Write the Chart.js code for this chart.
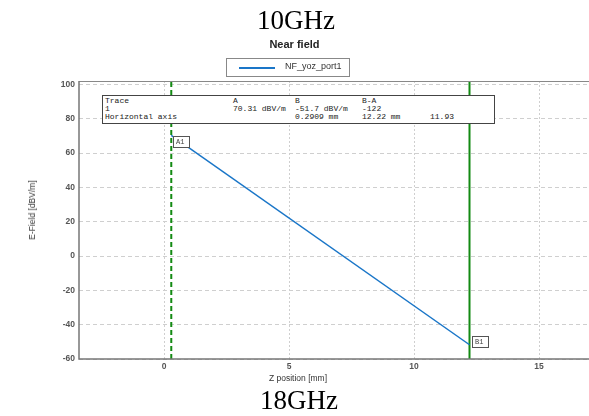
<!DOCTYPE html>
<html>
<head>
<meta charset="utf-8">
<script src="https://cdn.jsdelivr.net/npm/chart.js@4"></script>
<style>
  body { margin:0; background:#fff; }
  #wrap { position:relative; width:589px; height:416px; overflow:hidden; }
  #c { position:absolute; left:0; top:0; }
  .t { position:absolute; white-space:nowrap; }
  .freq { font-family:"Liberation Serif","DejaVu Serif",serif; font-size:27px; color:#000; line-height:1; }
  #near { left:0; width:589px; text-align:center; top:38px; font:bold 11px "Liberation Sans",Arial,sans-serif; color:#222; }
  #legend { left:226px; top:58px; width:122px; height:17px; border:1px solid #888; }
  #legend .ln { position:absolute; left:12px; top:8px; width:36px; height:2px; background:#1a76c8; }
  #legend .lb { position:absolute; left:58px; top:2px; font:9px "Liberation Sans",Arial,sans-serif; color:#333; }
  #xt { left:0; width:596px; text-align:center; top:373px; font:8.5px "Liberation Sans",Arial,sans-serif; color:#333; }
  #yt { left:32px; top:210px; transform:translate(-50%,-50%) rotate(-90deg); font:8.5px "Liberation Sans",Arial,sans-serif; color:#333; }
  #info { left:102px; top:95px; width:391px; height:27px; border:1px solid #444; background:#fff;
          font:8px "Liberation Mono","DejaVu Sans Mono",monospace; color:#222; }
  #info span { position:absolute; }
</style>
</head>
<body>
<div id="wrap">
  <canvas id="c" width="589" height="416"></canvas>
  <div class="t freq" style="left:0;width:592px;text-align:center;top:7px;">10GHz</div>
  <div class="t" id="near">Near field</div>
  <div class="t" id="legend"><div class="ln"></div><div class="lb">NF_yoz_port1</div></div>
  <div class="t" id="info"></div>
  <div class="t" id="xt">Z position [mm]</div>
  <div class="t" id="yt">E-Field [dBV/m]</div>
  <div class="t freq" style="left:0;width:598px;text-align:center;top:387px;">18GHz</div>
</div>
<script>
  // trace values
  const traceX = [0.2909, 12.22];
  const traceY = [70.31, -51.7];
  // marker positions
  const markerA = 0.2909;
  const markerB = 12.22;
  const markerLabels = ["A1", "B1"];
  // axis ranges and ticks
  const xRange = [-3.4, 17];
  const yRange = [-60, 102];
  const xTicks = [0, 5, 10, 15];
  const yTicks = [-60, -40, -20, 0, 20, 40, 60, 80, 100];
  // info table
  const infoRows = [
    ["Trace", "A", "B", "B-A", ""],
    ["1", "70.31 dBV/m", "-51.7 dBV/m", "-122", ""],
    ["Horizontal axis", "", "0.2909 mm", "12.22 mm", "11.93"]
  ];

  // fill info box
  const info = document.getElementById("info");
  const colX = [2, 130, 192, 259, 327];
  infoRows.forEach((row, r) => {
    row.forEach((txt, c) => {
      if (!txt) return;
      const s = document.createElement("span");
      s.textContent = txt;
      s.style.left = colX[c] + "px";
      s.style.top = (0 + r * 8) + "px";
      info.appendChild(s);
    });
  });

  const frameAndMarkers = {
    id: "frameAndMarkers",
    afterDatasetsDraw(chart) {
      const ctx = chart.ctx;
      const xs = chart.scales.x, ys = chart.scales.y;
      const area = chart.chartArea;
      ctx.save();
      // frame: top, left, bottom
      ctx.setLineDash([]);
      ctx.strokeStyle = "#888";
      ctx.lineWidth = 1;
      ctx.beginPath();
      ctx.moveTo(area.left, area.top + 0.5);
      ctx.lineTo(area.right, area.top + 0.5);
      ctx.stroke();
      ctx.strokeStyle = "#777";
      ctx.lineWidth = 1.5;
      ctx.beginPath();
      ctx.moveTo(area.left, area.top);
      ctx.lineTo(area.left, area.bottom);
      ctx.lineTo(area.right, area.bottom);
      ctx.stroke();
      // marker labels
      ctx.lineWidth = 1;
      ctx.font = "7px 'Liberation Mono', monospace";
      ctx.textBaseline = "middle";
      for (let i = 0; i < traceX.length; i++) {
        const px = xs.getPixelForValue(traceX[i]);
        const py = ys.getPixelForValue(traceY[i]);
        const bx = Math.round(px) + 2.5, by = Math.round(py) + (i === 0 ? 1.5 : -8.5);
        ctx.fillStyle = "#fff";
        ctx.fillRect(bx, by, 16, 11);
        ctx.strokeStyle = "#555";
        ctx.strokeRect(bx, by, 16, 11);
        ctx.fillStyle = "#444";
        ctx.fillText(markerLabels[i], bx + 2.5, by + 6);
      }
      ctx.restore();
    }
  };

  const tickFont = { family: "Liberation Sans", size: 8.5, weight: "bold" };

  new Chart(document.getElementById("c"), {
    type: "line",
    data: {
      datasets: [
        {
          label: "NF_yoz_port1",
          data: traceX.map((x, i) => ({ x: x, y: traceY[i] })),
          borderColor: "#1a76c8",
          borderWidth: 1.5,
          pointRadius: 0
        },
        {
          label: "markerA",
          data: [{ x: markerA, y: yRange[0] }, { x: markerA, y: yRange[1] }],
          borderColor: "#138a13",
          borderWidth: 2,
          borderDash: [5, 3],
          pointRadius: 0
        },
        {
          label: "markerB",
          data: [{ x: markerB, y: yRange[0] }, { x: markerB, y: yRange[1] }],
          borderColor: "#138a13",
          borderWidth: 2,
          pointRadius: 0
        }
      ]
    },
    options: {
      responsive: false,
      animation: false,
      layout: { padding: { top: 81, left: 0, right: 0, bottom: 0 } },
      plugins: { legend: { display: false }, title: { display: false }, tooltip: { enabled: false } },
      scales: {
        x: {
          type: "linear",
          min: xRange[0], max: xRange[1],
          ticks: { color: "#555", font: tickFont, padding: 3, maxRotation: 0 },
          afterBuildTicks: (s) => { s.ticks = xTicks.map(v => ({ value: v })); },
          afterFit: (s) => { s.height = 57; },
          grid: { color: "#cfcfcf", drawTicks: false, tickLength: 0 },
          border: { display: false, dash: [2, 2] }
        },
        y: {
          type: "linear",
          min: yRange[0], max: yRange[1],
          ticks: { color: "#555", font: tickFont, padding: 4 },
          afterBuildTicks: (s) => { s.ticks = yTicks.map(v => ({ value: v })); },
          afterFit: (s) => { s.width = 79; },
          grid: { color: "#cfcfcf", drawTicks: false, tickLength: 0 },
          border: { display: false, dash: [4, 3] }
        }
      }
    },
    plugins: [frameAndMarkers]
  });
</script>
</body>
</html>
